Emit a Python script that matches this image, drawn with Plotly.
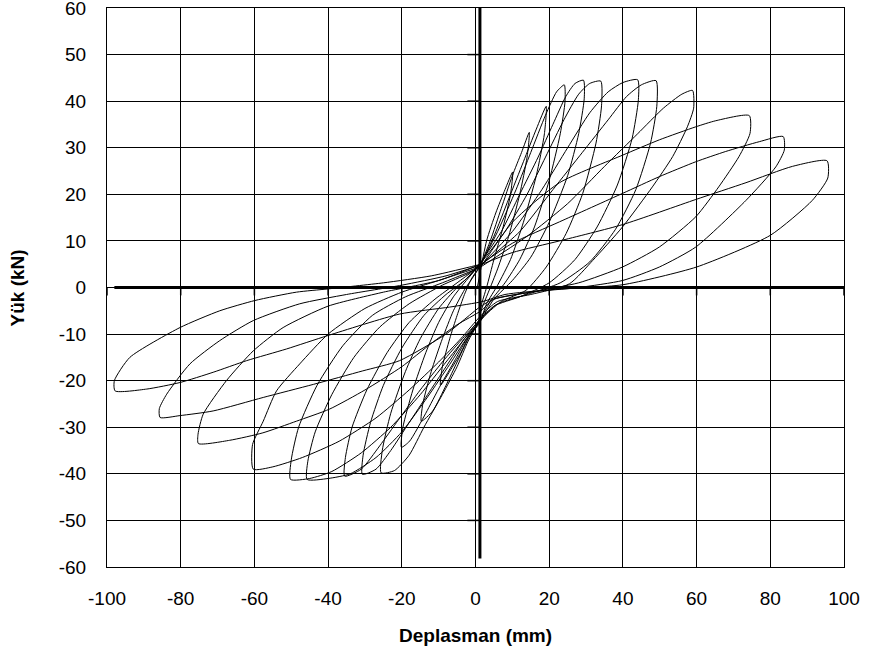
import plotly.graph_objects as go

# hysteresis cycles, (deplasman mm, yük kN)
loop_01 = [(0.5, 0), (3, 10), (5.5, 16), (8, 21), (10.1, 24.8),
           (9.5, 20), (7.5, 13), (5, 6), (3, 0), (1.5, -4), (1, -7),
           (-1.5, -10), (-4, -14), (-7, -18), (-9.5, -21),
           (-9, -17), (-7, -11), (-5, -6), (-3, -1.5), (-1, 2), (1.2, 4.5)]
loop_02 = [(1.2, 4.5), (4, 10), (7, 17), (10, 24), (12.5, 29), (14.6, 33.3),
           (14, 28), (12, 20), (9, 11), (6, 4), (3.5, -1), (1.5, -5), (0.8, -7.5),
           (-2, -11), (-5, -16), (-8, -21), (-11.6, -26.5), (-14.7, -28.7),
           (-14.3, -25), (-12, -18), (-9, -11), (-6, -5), (-3, -0.5), (0, 3), (1.5, 5)]
loop_03 = [(1.5, 5), (5, 11), (9, 19), (13, 27), (16.5, 34), (19.2, 38.9),
           (18.7, 33), (16.5, 24), (13, 14), (9.5, 6), (6, 0.5), (3, -3.5), (1, -7.8),
           (-2, -10.5), (-5.5, -15.5), (-9.5, -21), (-13.5, -27), (-17.9, -33), (-20.1, -34.3),
           (-19.7, -30), (-17, -22), (-13.5, -14), (-10, -7.5), (-6, -2), (-2.5, 1.5), (1.8, 5.5)]
loop_04 = [(1.8, 5.5), (6, 12), (11, 21), (15, 29), (19, 37), (22, 42), (24.1, 43.5),
           (24.3, 40), (23, 33), (20, 23), (16, 13), (12, 6), (8, 1), (4, -3), (0.5, -8),
           (-2, -11.5), (-5, -17), (-9, -23), (-14, -30), (-18, -36), (-22, -39.3), (-25.6, -39.8),
           (-25.3, -35), (-23, -27), (-19, -18), (-15, -11), (-10, -4.5), (-5, 0), (-1, 3), (1.5, 5.5)]
loop_05 = [(1.5, 5.5), (7, 12), (12, 20), (17, 28), (21, 35), (24.5, 41), (27, 43.8), (29.3, 44.5),
           (29.5, 40.5), (28, 33), (25, 24), (20, 14), (15, 6.5), (10, 1.5), (5, -2.5), (1, -7.5),
           (-3, -11), (-8, -17), (-13, -23), (-18, -29), (-23, -35), (-27, -39), (-30.7, -40.1),
           (-30.5, -36), (-28.5, -29), (-25, -21), (-20, -13), (-14, -6), (-8, -1.5), (-3, 1.5), (1.2, 5)]
loop_06 = [(1.2, 5), (8, 12), (14, 20), (19, 28), (24, 36), (28, 41.5), (31, 43.8), (34, 44.3),
           (34.2, 39), (32.7, 31), (29.1, 20.2), (24.6, 11.6), (19.2, 4.4), (13.7, -0.6), (7, -3), (1.2, -7),
           (-3, -10.5), (-9, -16), (-15, -22), (-21, -28.5), (-26, -34), (-31, -39), (-35.5, -40.5),
           (-35.3, -36.5), (-33.5, -30), (-29.5, -22), (-24, -14), (-18, -7.5), (-11, -2.5), (-5, 1), (1.5, 4.8)]
loop_07 = [(1.5, 4.8), (10, 12), (18, 21), (25, 30), (31, 37.5), (36, 42), (40, 44), (44, 44.6),
           (44.2, 40.3), (42.5, 32), (38.5, 22), (33, 13), (27, 6), (20, 1), (12, -2), (5, -4), (1, -7.5),
           (-2.5, -11), (-7, -16.5), (-13, -23.5), (-20, -31), (-27, -36.5), (-34, -40), (-40, -41), (-45.7, -41.2),
           (-45.5, -37.3), (-43.5, -31), (-39, -23), (-33, -15), (-26, -8.5), (-18, -3.5), (-9, 0.5), (-2, 3), (1.8, 5)]
loop_08 = [(1.8, 5), (12, 12), (21, 21), (29, 29), (36, 36), (41, 41), (45, 43.5), (49, 44.4),
           (49.2, 38.9), (47.5, 31), (43.5, 21), (38, 12.5), (31, 5.5), (23, 1), (14, -1.5), (6, -3.5), (1.5, -6.5),
           (-3, -11), (-8, -16), (-15, -23), (-23, -30), (-31, -35.5), (-39, -39.5), (-45, -41), (-50.2, -41.2),
           (-50, -37), (-48, -30), (-43, -21), (-36, -12.5), (-28, -6), (-19, -2), (-9, 1), (1, 4.2)]
loop_09 = [(1, 4.2), (14, 11), (25, 18), (35, 26), (44, 33), (51, 38.5), (56, 41.5), (58.9, 42.3),
           (59.2, 38.5), (57.5, 34.5), (53.5, 28.1), (48, 21.6), (39.9, 13), (31.8, 5.8), (25.5, 0.8),
           (15, -1.5), (6, -3), (1.5, -6),
           (-4, -11), (-10, -16), (-18, -22), (-27, -28), (-37, -33), (-47, -36.5), (-55, -38.5), (-60.3, -39),
           (-60.5, -33.7), (-57.6, -28.7), (-54, -22.2), (-47.7, -16.4), (-40, -10), (-30, -4.5), (-20, -1),
           (-10, 1.5), (1.5, 4.5)]
loop_10 = [(1.5, 4.5), (10, 14), (22.8, 22.5), (39.9, 28.4), (49.9, 31.7), (59.8, 34.5), (65.2, 35.8), (74.3, 36.9),
           (74.5, 33.1), (71.5, 28.1), (66, 21.6), (59.8, 15.2), (49.9, 8.7), (39.9, 4.4), (28, 1), (15, -1),
           (5, -2.5), (1.5, -5),
           (-5, -8), (-12, -12), (-20, -17), (-30, -22), (-39.6, -26.1), (-48.6, -28.7), (-57.7, -31.2),
           (-66.7, -32.8), (-75.2, -33.5),
           (-75.3, -31.5), (-73.9, -27.2), (-67.6, -20), (-60.3, -13.6), (-52.2, -8.6), (-40, -4), (-25, -1),
           (-10, 1.5), (1.5, 5)]
loop_11 = [(1.5, 5), (10, 9.5), (22.8, 14.1), (39.9, 20.2), (49.9, 23.8), (59.8, 27), (67.9, 29.2), (77, 31.3),
           (83.5, 32.4),
           (83.8, 29.5), (81.5, 25.9), (73.4, 18.7), (59.8, 8.7), (49.9, 4.4), (39.9, 1.5), (28, 0), (15, -1),
           (5, -2.5), (1.5, -4),
           (-8, -10), (-20.6, -15.7), (-30.6, -17.9), (-44, -20.8), (-57.6, -23.6), (-71.2, -26.5), (-80.2, -27.5),
           (-85.6, -27.9),
           (-85.8, -26), (-83.8, -22.9), (-77.5, -16.4), (-69.4, -11.4), (-60.3, -7.1), (-47.7, -3.5),
           (-35, -1.5), (-20, 0.5), (-8, 2.5), (1.2, 4.8)]
loop_12 = [(1.2, 4.8), (10, 7.5), (22.8, 10), (39.9, 13.5), (59.8, 18.9), (73.4, 22.5), (86, 26), (95.4, 27.2),
           (95.6, 23.5), (91.4, 18.7), (80, 11.2), (60, 4.4), (40, 0.6), (20, -0.5), (8, -1.5), (2, -3),
           (-7, -4.2), (-20.6, -5.7), (-40, -10.3), (-51.3, -13.2), (-62.1, -15.7), (-71.2, -18.2),
           (-80.2, -20.4), (-89.2, -21.8), (-97.8, -22.2),
           (-98, -20), (-93.8, -15), (-80.2, -8.6), (-69.4, -5), (-59.9, -2.8), (-48.6, -1), (-40, -0.3),
           (-25, 1), (-12, 2.5), (1.5, 5)]

loops = [loop_01, loop_02, loop_03, loop_04, loop_05, loop_06,
         loop_07, loop_08, loop_09, loop_10, loop_11, loop_12]

# the two heavy reference lines through the origin
zero_line_x = [-98, 100]
zero_line_y = [0, 0]
vert_line_x = [1.2, 1.2]
vert_line_y = [60, -58.2]

x_ticks = list(range(-100, 101, 20))
y_ticks = list(range(-60, 61, 10))

fig = go.Figure()
for lp in loops:
    fig.add_trace(go.Scatter(x=[p[0] for p in lp], y=[p[1] for p in lp], mode="lines",
                             line=dict(color="black", width=1, shape="spline", smoothing=0.6),
                             hoverinfo="skip", showlegend=False))

fig.add_trace(go.Scatter(x=zero_line_x, y=zero_line_y, mode="lines",
                         line=dict(color="black", width=3), hoverinfo="skip", showlegend=False))
fig.add_trace(go.Scatter(x=vert_line_x, y=vert_line_y, mode="lines",
                         line=dict(color="black", width=3), hoverinfo="skip", showlegend=False))

# small tick marks hanging off the heavy lines
tx, ty = [], []
for v in x_ticks:
    tx += [v, v, None]
    ty += [0, -1.7, None]
for v in y_ticks:
    if -58 < v < 60:
        tx += [-2.2, 1.2, None]
        ty += [v, v, None]
fig.add_trace(go.Scatter(x=tx, y=ty, mode="lines", line=dict(color="black", width=1.5),
                         hoverinfo="skip", showlegend=False))

font = dict(family="Liberation Sans, Arial, sans-serif", size=19, color="black")

fig.update_layout(
    width=869, height=661,
    margin=dict(l=107, r=25, t=8, b=94),
    paper_bgcolor="white", plot_bgcolor="white",
    font=font, showlegend=False, hovermode=False,
)
fig.update_xaxes(range=[-100, 100], tickvals=x_ticks, ticktext=[str(v) for v in x_ticks],
                 showgrid=True, gridcolor="black", gridwidth=1, automargin=False,
                 zeroline=False, showline=True, linecolor="black", linewidth=1, mirror=True,
                 ticks="", ticklabelstandoff=14, ticklabeloverflow="allow", tickfont=font)
fig.update_yaxes(range=[-60, 60], tickvals=y_ticks, ticktext=[str(v) for v in y_ticks],
                 showgrid=True, gridcolor="black", gridwidth=1, automargin=False,
                 zeroline=False, showline=True, linecolor="black", linewidth=1, mirror=True,
                 ticks="", ticklabelstandoff=16, ticklabeloverflow="allow", tickfont=font)

fig.add_annotation(text="<b>Deplasman (mm)</b>", xref="paper", yref="paper", x=0.5, y=-0.1234,
                   xanchor="center", yanchor="middle", showarrow=False,
                   font=dict(family="Liberation Sans, Arial, sans-serif", size=19, color="black"))
fig.add_annotation(text="<b>Yük (kN)</b>", xref="paper", yref="paper", x=-0.1208, y=0.5,
                   xanchor="center", yanchor="middle", textangle=-90, showarrow=False,
                   font=dict(family="Liberation Sans, Arial, sans-serif", size=19, color="black"))

# the page body has a default 8px margin; drop it so the figure sits at the window corner
fig.write_html("out.html", config={"displayModeBar": False},
               post_script="document.body.style.margin='0px';")
